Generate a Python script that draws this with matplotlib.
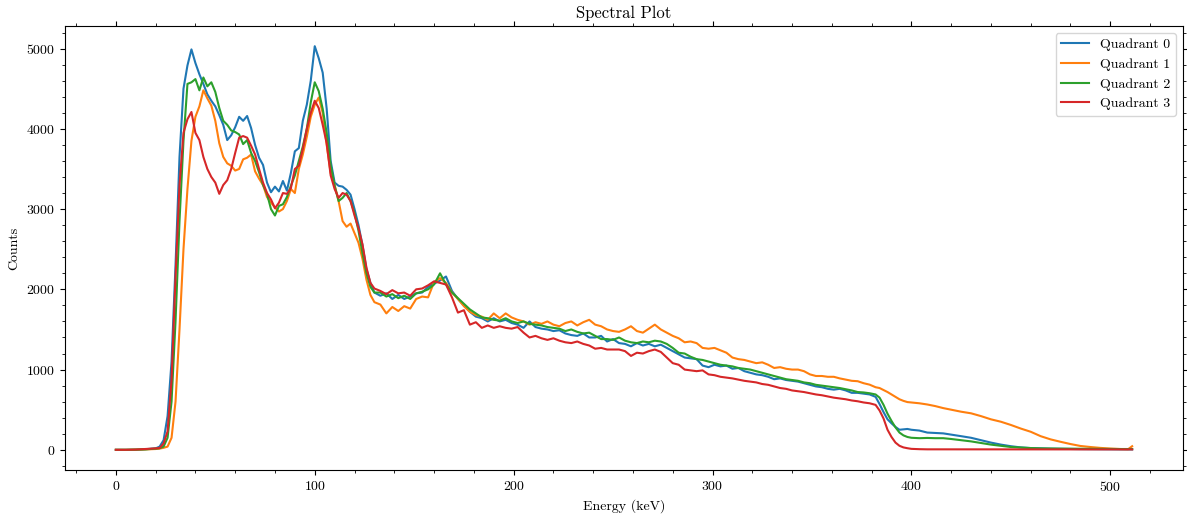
import matplotlib
matplotlib.use("Agg")
import matplotlib.pyplot as plt
from matplotlib.ticker import MultipleLocator

plt.rcParams["font.family"] = "cmr10"
plt.rcParams["mathtext.fontset"] = "cm"
plt.rcParams["axes.formatter.use_mathtext"] = True
plt.rcParams["font.size"] = 10

# energy bins (keV)
energy = [
    0, 5, 10, 15, 20,
    22, 24, 26, 28, 30, 32, 34, 36, 38, 40,
    42, 44, 46, 48, 50, 52, 54, 56, 58, 60,
    62, 64, 66, 68, 70, 72, 74, 76, 78, 80,
    82, 84, 86, 88, 90, 92, 94, 96, 98, 100,
    102, 104, 106, 108, 110, 112, 114, 116, 118, 120,
    122, 124, 126, 128, 130,
    133, 136, 139, 142, 145, 148, 151, 154, 157, 160,
    163, 166, 169, 172, 175, 178, 181, 184, 187, 190,
    193, 196, 199, 202, 205, 208, 211, 214, 217, 220,
    223, 226, 229, 232, 235, 238, 241, 244, 247, 250,
    253, 256, 259, 262, 265, 268, 271, 274, 277, 280,
    283, 286, 289, 292, 295, 298, 301, 304, 307, 310,
    313, 316, 319, 322, 325, 328, 331, 334, 337, 340,
    343, 346, 349, 352, 355, 358, 361, 364, 367, 370,
    373, 376, 379, 382, 384, 386, 388, 390, 392, 394,
    396, 398, 400, 404, 408, 412, 416, 420, 425, 430,
    435, 440, 445, 450, 455, 460, 465, 470, 475, 480,
    485, 490, 495, 500, 505, 509, 511,
]

quad0 = [
    0, 0, 2, 8, 18,
    40, 120, 420, 1100, 2300, 3650, 4500, 4790, 4990, 4820,
    4680, 4560, 4430, 4350, 4280, 4170, 4050, 3860, 3920, 4020,
    4150, 4100, 4160, 4010, 3800, 3640, 3550, 3330, 3210, 3280,
    3220, 3350, 3230, 3450, 3720, 3760, 4100, 4300, 4600, 5030,
    4880, 4700, 4250, 3600, 3330, 3290, 3280, 3240, 3180, 3000,
    2800, 2550, 2250, 2080, 1960,
    1920, 1950, 1880, 1930, 1880, 1910, 1950, 1960, 2030, 2070,
    2110, 2160, 1980, 1880, 1800, 1720, 1660, 1640, 1600, 1640,
    1600, 1620, 1580, 1560, 1520, 1600, 1530, 1510, 1500, 1480,
    1490, 1450, 1430, 1420, 1450, 1400, 1400, 1420, 1350, 1380,
    1330, 1320, 1290, 1330, 1300, 1320, 1290, 1310, 1270, 1230,
    1190, 1150, 1140, 1130, 1050, 1030, 1060, 1040, 1050, 1010,
    1020, 980, 960, 940, 930, 910, 880, 890, 870, 860,
    850, 830, 810, 790, 780, 760, 750, 760, 740, 710,
    710, 700, 690, 660, 570, 470, 380, 330, 285, 250,
    255, 260, 250, 240, 215, 210, 205, 190, 170, 150,
    120, 90, 65, 45, 30, 22, 18, 14, 12, 10,
    9, 8, 8, 7, 6, 6, 5,
]

quad1 = [
    0, 0, 2, 5, 10,
    15, 25, 40, 150, 600, 1500, 2500, 3250, 3850, 4150,
    4280, 4480, 4380, 4290, 4100, 3820, 3650, 3570, 3540, 3480,
    3500, 3620, 3640, 3680, 3470, 3380, 3300, 3150, 3080, 3020,
    2970, 3000, 3100, 3250, 3200, 3500, 3680, 3900, 4150, 4300,
    4390, 4200, 3800, 3450, 3300, 3100, 2850, 2780, 2820, 2700,
    2580, 2380, 2120, 1930, 1840,
    1810, 1700, 1780, 1730, 1790, 1760, 1880, 1910, 1900, 2090,
    2140, 2080, 1960, 1880, 1790, 1720, 1680, 1660, 1620, 1700,
    1640, 1700, 1650, 1620, 1600, 1560, 1590, 1570, 1600, 1560,
    1540, 1580, 1600, 1550, 1590, 1620, 1560, 1540, 1500, 1480,
    1470, 1500, 1540, 1480, 1460, 1510, 1560, 1500, 1460, 1420,
    1390, 1340, 1350, 1330, 1270, 1260, 1270, 1240, 1210, 1150,
    1130, 1120, 1100, 1080, 1090, 1060, 1020, 1030, 1010, 1000,
    1000, 980, 940, 920, 920, 910, 910, 890, 875, 860,
    855, 830, 812, 780, 770, 745, 720, 690, 660, 630,
    610, 595, 590, 580, 565, 545, 520, 500, 475, 455,
    420, 380, 350, 310, 265, 225, 170, 130, 100, 72,
    48, 35, 24, 16, 10, 8, 45,
]

quad2 = [
    0, 0, 2, 6, 15,
    20, 40, 150, 600, 1600, 2850, 3850, 4560, 4580, 4620,
    4480, 4640, 4530, 4580, 4460, 4260, 4100, 4050, 3980, 3960,
    3930, 3810, 3860, 3700, 3600, 3460, 3300, 3190, 3000, 2920,
    3040, 3060, 3150, 3290, 3420, 3600, 3780, 4000, 4330, 4580,
    4470, 4250, 3950, 3550, 3290, 3100, 3140, 3200, 3100, 2950,
    2730, 2450, 2200, 2030, 1960,
    1960, 1910, 1940, 1890, 1920, 1880, 1950, 1970, 2000, 2060,
    2200, 2060, 1960, 1890, 1820, 1750, 1700, 1650, 1640, 1620,
    1610, 1640, 1600, 1580, 1600, 1570, 1560, 1550, 1530, 1520,
    1510, 1480, 1500, 1470, 1450, 1460, 1420, 1380, 1380, 1370,
    1400, 1360, 1340, 1330, 1350, 1340, 1360, 1350, 1320, 1270,
    1210, 1200, 1160, 1130, 1120, 1100, 1080, 1060, 1050, 1040,
    1020, 1010, 1000, 980, 960, 940, 920, 900, 880, 870,
    860, 840, 830, 810, 800, 790, 780, 770, 755, 740,
    720, 715, 705, 690, 650, 560, 450, 360, 280, 215,
    180, 160, 150, 145, 148, 145, 145, 135, 120, 105,
    85, 65, 50, 35, 28, 22, 18, 16, 15, 14,
    13, 12, 12, 11, 10, 10, 10,
]

quad3 = [
    0, 0, 3, 10, 18,
    22, 80, 230, 870, 2150, 3300, 3950, 4120, 4210, 3950,
    3860, 3650, 3500, 3400, 3330, 3190, 3300, 3360, 3500, 3700,
    3890, 3910, 3890, 3790, 3680, 3500, 3330, 3200, 3120, 3010,
    3080, 3200, 3190, 3260, 3500, 3540, 3750, 4000, 4200, 4350,
    4260, 4050, 3820, 3420, 3250, 3140, 3200, 3180, 3100, 2920,
    2760, 2560, 2270, 2080, 2010,
    1980, 1940, 1990, 1950, 1960, 1920, 2000, 2010, 2050, 2100,
    2080, 2060, 1900, 1710, 1740, 1560, 1590, 1520, 1550, 1520,
    1540, 1520, 1510, 1530, 1460, 1400, 1420, 1390, 1370, 1390,
    1360, 1340, 1330, 1350, 1320, 1300, 1260, 1270, 1250, 1250,
    1250, 1230, 1170, 1210, 1200, 1230, 1250, 1220, 1150, 1080,
    1060, 1000, 990, 980, 990, 940, 930, 910, 900, 890,
    875, 860, 850, 840, 820, 810, 790, 770, 760, 740,
    730, 720, 705, 690, 680, 665, 650, 640, 630, 615,
    605, 590, 580, 560, 490, 390, 250, 160, 90, 50,
    30, 20, 12, 8, 6, 6, 5, 5, 5, 5,
    5, 5, 5, 5, 5, 5, 5, 5, 5, 5,
    5, 5, 5, 5, 5, 5, 5,
]

series = [quad0, quad1, quad2, quad3]
labels = ["Quadrant 0", "Quadrant 1", "Quadrant 2", "Quadrant 3"]

fig = plt.figure(figsize=(11.87, 5.14), dpi=100)
ax = fig.add_axes([0.0548, 0.0856, 0.9418, 0.8638])

for vals, lab in zip(series, labels):
    ax.plot(energy, vals, lw=1.5, label=lab)

ax.set_title("Spectral Plot")
ax.set_xlabel("Energy (keV)")
ax.set_ylabel("Counts")
ax.xaxis.set_minor_locator(MultipleLocator(20))
ax.yaxis.set_minor_locator(MultipleLocator(200))
ax.tick_params(which="both", direction="out", top=True, right=True)
ax.legend(loc="upper right")

fig.savefig("out.png", dpi=100)
